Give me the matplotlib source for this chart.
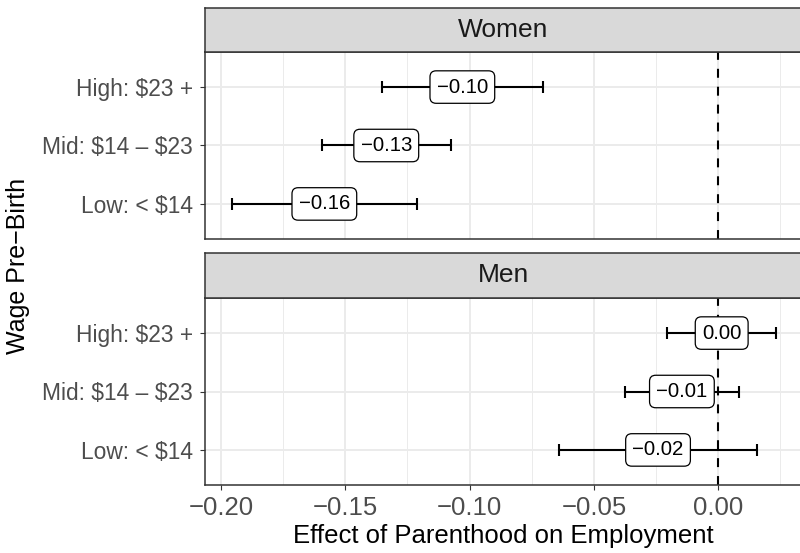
import numpy as np
import matplotlib
matplotlib.use("Agg")
import matplotlib.pyplot as plt
from matplotlib.ticker import MultipleLocator, FuncFormatter

plt.rcParams['font.family'] = ['Liberation Sans', 'DejaVu Sans']

# categories (bottom to top) and panels
wage_groups = ["Low: < $14", "Mid: $14 \u2013 $23", "High: $23 +"]
panels = ["Women", "Men"]

# point estimates and 95% CI
women_est = [-0.1584, -0.1335, -0.1029]
women_lo = [-0.1957, -0.1594, -0.1352]
women_hi = [-0.1211, -0.1075, -0.0703]

men_est = [-0.0242, -0.0146, 0.0014]
men_lo = [-0.0641, -0.0375, -0.0204]
men_hi = [0.0158, 0.0084, 0.0232]

W, H = 800, 553
fig = plt.figure(figsize=(W / 100, H / 100), dpi=100)


def fx(px):
    return px / W


def fy(py):
    return 1 - py / H


def minus(s):
    return s.replace("-", "\u2212")


left, right = 205, 802
panel_rows = [(52, 239, 7.5), (298, 485, 253)]  # (top, bottom, strip top) in px
data = [(women_est, women_lo, women_hi), (men_est, men_lo, men_hi)]

for i, (name, (top, bot, stop), (est, lo, hi)) in enumerate(zip(panels, panel_rows, data)):
    ax = fig.add_axes([fx(left), fy(bot), fx(right - left), (bot - top) / H])
    est, lo, hi = np.array(est), np.array(lo), np.array(hi)
    y = np.arange(1, len(wage_groups) + 1)

    ax.set_xlim(-0.2064, 0.0337)
    ax.set_ylim(0.4, len(wage_groups) + 0.6)
    ax.xaxis.set_major_locator(MultipleLocator(0.05))
    ax.xaxis.set_minor_locator(MultipleLocator(0.025))
    ax.set_yticks(y)
    ax.set_yticklabels([g.replace("$", r"\$") for g in wage_groups])
    ax.grid(which='major', color='#EBEBEB', lw=1.4, zorder=0)
    ax.grid(which='minor', axis='x', color='#EBEBEB', lw=0.7, zorder=0)
    ax.set_axisbelow(True)

    ax.axvline(0, color='black', lw=1.5, ls=(0, (4.3, 4.3)), zorder=2)
    ax.errorbar(est, y, xerr=[est - lo, hi - est], fmt='none', ecolor='black',
                elinewidth=1.5, capsize=4, capthick=1.5, zorder=3)
    for xv, yv in zip(est, y):
        ax.text(xv, yv, minus(f"{xv:.2f}"), ha='center', va='center', fontsize=14.7,
                color='black', zorder=4,
                bbox=dict(boxstyle='round,pad=0.33,rounding_size=0.3',
                          fc='white', ec='black', lw=0.9))

    for sp in ax.spines.values():
        sp.set_color('#333333')
        sp.set_linewidth(1.1)
    ax.tick_params(axis='y', length=3.6, width=0.8, color='#333333', pad=5,
                   labelsize=16.4, labelcolor='#4D4D4D')
    ax.tick_params(axis='x', which='minor', length=0)
    if i == 0:
        ax.tick_params(axis='x', which='major', length=0, labelbottom=False)
    else:
        ax.tick_params(axis='x', which='major', length=3.6, width=0.8, color='#333333',
                       pad=4, labelsize=18.5, labelcolor='#4D4D4D')
        ax.xaxis.set_major_formatter(FuncFormatter(lambda v, p: minus(f"{v:.2f}")))
        ax.set_xlabel("Effect of Parenthood on Employment", fontsize=18.5,
                      color='black', labelpad=3)

    # facet strip
    sax = fig.add_axes([fx(left), fy(top), fx(right - left), (top - stop) / H])
    sax.set_facecolor('#D9D9D9')
    sax.set_xticks([])
    sax.set_yticks([])
    for sp in sax.spines.values():
        sp.set_color('#333333')
        sp.set_linewidth(1.1)
    sax.text(fx(503.5 - left) / fx(right - left), 0.5, name, transform=sax.transAxes,
             ha='center', va='center', fontsize=19, color='#1A1A1A')

fig.text(fx(18), fy(266), "Wage Pre\u2212Birth", rotation=90, ha='center', va='center',
         fontsize=18, color='black')

fig.savefig("out.png", dpi=100)
